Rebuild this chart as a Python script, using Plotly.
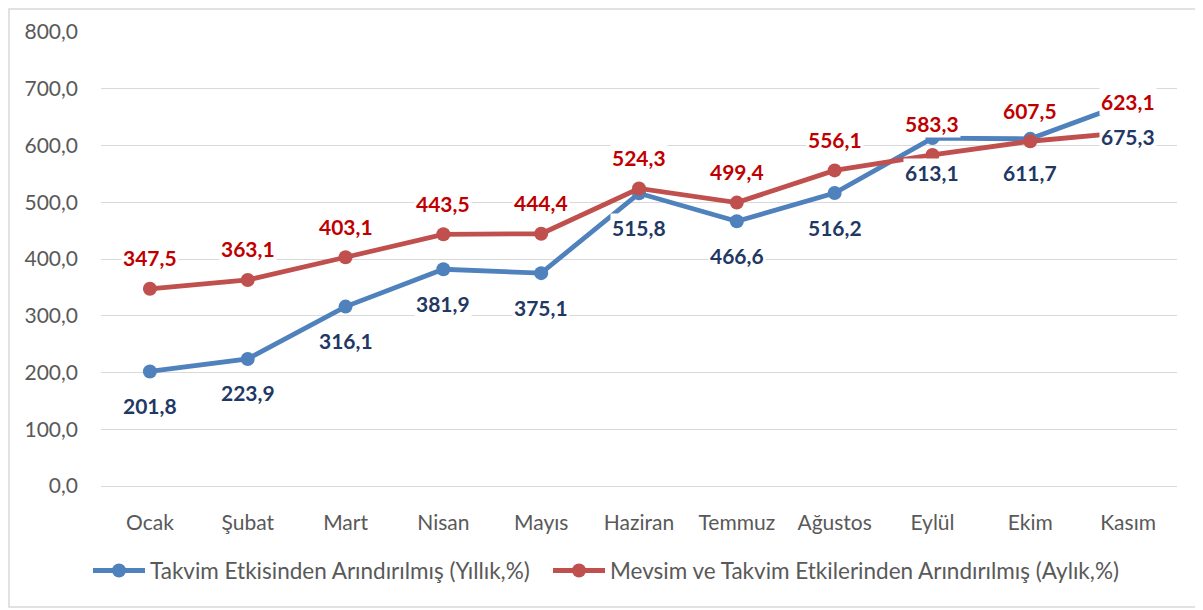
import plotly.graph_objects as go

months = ["Ocak", "Şubat", "Mart", "Nisan", "Mayıs", "Haziran", "Temmuz", "Ağustos", "Eylül", "Ekim", "Kasım"]
takvim = [201.8, 223.9, 316.1, 381.9, 375.1, 515.8, 466.6, 516.2, 613.1, 611.7, 675.3]
mevsim = [347.5, 363.1, 403.1, 443.5, 444.4, 524.3, 499.4, 556.1, 583.3, 607.5, 623.1]
name_takvim = "Takvim Etkisinden Arındırılmış (Yıllık,%)"
name_mevsim = "Mevsim ve Takvim Etkilerinden Arındırılmış (Aylık,%)"
y_ticks = [0, 100, 200, 300, 400, 500, 600, 700, 800]
y_ticktext = ["0,0", "100,0", "200,0", "300,0", "400,0", "500,0", "600,0", "700,0", "800,0"]

BLUE = "#4F81BD"
RED = "#C0504D"
FONT = "Lato"

def fmt(v):
    return f"{v:.1f}".replace(".", ",")

fig = go.Figure()
fig.add_trace(go.Scatter(x=months, y=takvim, name=name_takvim, mode="lines+markers",
                         line=dict(color=BLUE, width=4.8), marker=dict(size=14, color=BLUE),
                         legend="legend"))
fig.add_trace(go.Scatter(x=months, y=mevsim, name=name_mevsim, mode="lines+markers",
                         line=dict(color=RED, width=4.8), marker=dict(size=14, color=RED),
                         legend="legend2"))

annotations = []
for m, v in zip(months, takvim):
    annotations.append(dict(x=m, y=v, xref="x", yref="y", text=fmt(v), showarrow=False,
                            yshift=-34, bgcolor="white", borderpad=1,
                            font=dict(family=FONT, size=21, color="#1F3864", weight="bold")))
for m, v in zip(months, mevsim):
    annotations.append(dict(x=m, y=v, xref="x", yref="y", text=fmt(v), showarrow=False,
                            yshift=31, bgcolor="white", borderpad=1,
                            font=dict(family=FONT, size=21, color="#C00000", weight="bold")))

legend_style = dict(orientation="h", y=-0.187, xanchor="left", yanchor="middle",
                    font=dict(family=FONT, size=22.5, color="#595959"), itemwidth=52,
                    bgcolor="rgba(0,0,0,0)")

# page body has an 8px margin, so the figure is 8px smaller and shifted
fig.update_layout(
    width=1195, height=602,
    margin=dict(l=93, r=26, t=24, b=124, autoexpand=False),
    paper_bgcolor="white", plot_bgcolor="white",
    font=dict(family=FONT, size=21, color="#595959"),
    showlegend=True,
    legend=dict(x=(88 - 101) / 1076, **legend_style),
    legend2=dict(x=(548 - 101) / 1076, **legend_style),
    annotations=annotations,
    shapes=[dict(type="rect", xref="paper", yref="paper", x0=(9 - 101) / 1076, x1=(1199 - 101) / 1076,
                 y0=(486 - 607) / 454, y1=(486 - 9) / 454, line=dict(color="#D9D9D9", width=1.5),
                 fillcolor="rgba(0,0,0,0)", layer="below")],
    hovermode=False,
)
fig.update_xaxes(range=[-0.5, 10.5], showgrid=False, showline=True, linecolor="#D9D9D9",
                 linewidth=1, ticks="", tickfont=dict(family=FONT, size=21, color="#595959"),
                 ticklabelstandoff=18, automargin=False, fixedrange=True)
fig.update_yaxes(range=[0, 800], tickvals=y_ticks, ticktext=y_ticktext, showgrid=True,
                 gridcolor="#D9D9D9", gridwidth=1, zeroline=False, showline=False,
                 tickfont=dict(family=FONT, size=21, color="#595959"),
                 ticklabelstandoff=22, automargin=False, fixedrange=True)

fig.write_html("out.html")
